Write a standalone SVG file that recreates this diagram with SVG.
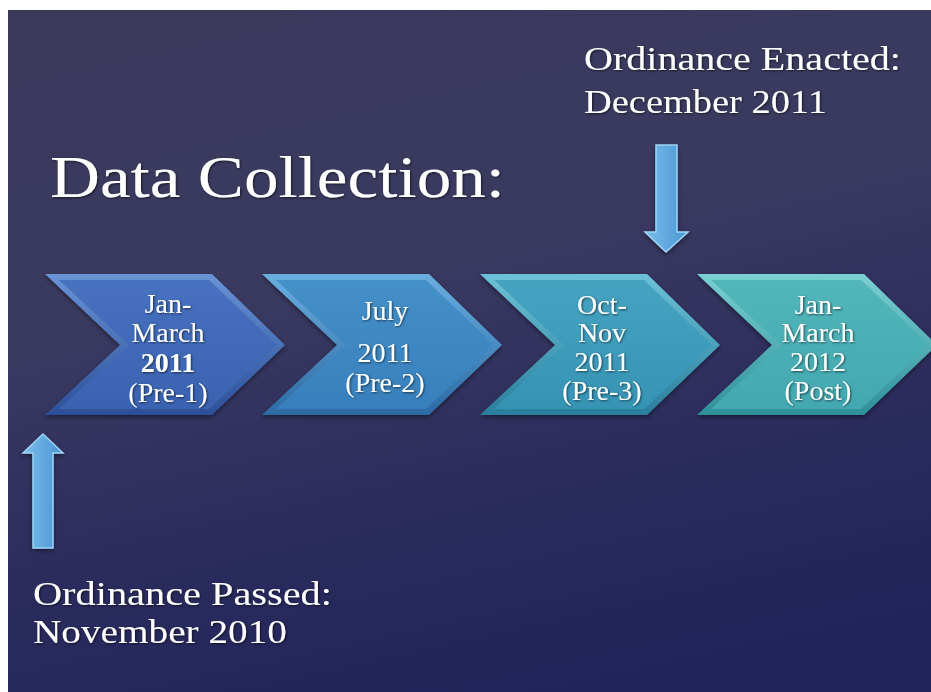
<svg xmlns="http://www.w3.org/2000/svg" width="931" height="692" viewBox="0 0 931 692">
<defs>
<linearGradient id="bg" x1="0.3" y1="0" x2="0.6" y2="1">
<stop offset="0" stop-color="#3a395c"/>
<stop offset="0.35" stop-color="#3a3a60"/>
<stop offset="0.7" stop-color="#2b2c5d"/>
<stop offset="1" stop-color="#21235a"/>
</linearGradient>
<linearGradient id="c1o" x1="0" y1="0" x2="0" y2="1"><stop offset="0" stop-color="#6a93d6"/><stop offset="1" stop-color="#2c4f98"/></linearGradient>
<linearGradient id="c1i" x1="0" y1="0" x2="0" y2="1"><stop offset="0" stop-color="#4772bf"/><stop offset="1" stop-color="#3a62b0"/></linearGradient>
<linearGradient id="c2o" x1="0" y1="0" x2="0" y2="1"><stop offset="0" stop-color="#6aaee0"/><stop offset="1" stop-color="#2c6aa3"/></linearGradient>
<linearGradient id="c2i" x1="0" y1="0" x2="0" y2="1"><stop offset="0" stop-color="#4490c8"/><stop offset="1" stop-color="#3880bd"/></linearGradient>
<linearGradient id="c3o" x1="0" y1="0" x2="0" y2="1"><stop offset="0" stop-color="#6cc2d8"/><stop offset="1" stop-color="#2a7f9c"/></linearGradient>
<linearGradient id="c3i" x1="0" y1="0" x2="0" y2="1"><stop offset="0" stop-color="#46a3c0"/><stop offset="1" stop-color="#3793b4"/></linearGradient>
<linearGradient id="c4o" x1="0" y1="0" x2="0" y2="1"><stop offset="0" stop-color="#7ad0d2"/><stop offset="1" stop-color="#2f8f98"/></linearGradient>
<linearGradient id="c4i" x1="0" y1="0" x2="0" y2="1"><stop offset="0" stop-color="#52b6ba"/><stop offset="1" stop-color="#43a8b0"/></linearGradient>
<linearGradient id="arr" x1="0" y1="0" x2="1" y2="0"><stop offset="0" stop-color="#79bdec"/><stop offset="1" stop-color="#4a95d2"/></linearGradient>
<filter id="sh" x="-10%" y="-10%" width="120%" height="130%">
<feDropShadow dx="0" dy="2" stdDeviation="2" flood-color="#000" flood-opacity="0.45"/>
</filter>
<filter id="ts" x="-5%" y="-20%" width="110%" height="140%">
<feDropShadow dx="1" dy="1" stdDeviation="0.8" flood-color="#000" flood-opacity="0.6"/>
</filter>
</defs>
<style>
.t{font-family:"Liberation Serif","DejaVu Serif",serif;fill:#ffffff;filter:url(#ts)}
.lbl{font-size:28px;text-anchor:middle}
.ann{font-size:34px}
.arrow{fill:url(#arr);stroke:#9fd3f5;stroke-width:1.5;filter:url(#sh)}
</style>
<rect x="0" y="0" width="931" height="692" fill="#ffffff"/>
<rect x="8" y="10" width="923" height="682" fill="url(#bg)"/>

<text class="t" x="50" y="197" font-size="60" textLength="455" lengthAdjust="spacingAndGlyphs">Data Collection:</text>

<g id="chevron1" transform="translate(45,274)">
<polygon points="0,0 167,0 240,71 167,141 0,141 75,71" fill="url(#c1o)" filter="url(#sh)"/>
<polygon points="14,6 164,6 232,71 164,135 14,135 84,71" fill="url(#c1i)"/>
<text class="t lbl" x="123" y="39">Jan-</text>
<text class="t lbl" x="123" y="68">March</text>
<text class="t lbl" x="123" y="98" font-weight="bold">2011</text>
<text class="t lbl" x="123" y="128">(Pre-1)</text>
</g>

<g id="chevron2" transform="translate(262,274)">
<polygon points="0,0 167,0 240,71 167,141 0,141 75,71" fill="url(#c2o)" filter="url(#sh)"/>
<polygon points="14,6 164,6 232,71 164,135 14,135 84,71" fill="url(#c2i)"/>
<text class="t lbl" x="123" y="46">July</text>
<text class="t lbl" x="123" y="88">2011</text>
<text class="t lbl" x="123" y="118">(Pre-2)</text>
</g>

<g id="chevron3" transform="translate(480,274)">
<polygon points="0,0 167,0 240,71 167,141 0,141 75,71" fill="url(#c3o)" filter="url(#sh)"/>
<polygon points="14,6 164,6 232,71 164,135 14,135 84,71" fill="url(#c3i)"/>
<text class="t lbl" x="122" y="40">Oct-</text>
<text class="t lbl" x="122" y="68">Nov</text>
<text class="t lbl" x="122" y="97">2011</text>
<text class="t lbl" x="122" y="126">(Pre-3)</text>
</g>

<g id="chevron4" transform="translate(697,274)">
<polygon points="0,0 167,0 240,71 167,141 0,141 75,71" fill="url(#c4o)" filter="url(#sh)"/>
<polygon points="14,6 164,6 232,71 164,135 14,135 84,71" fill="url(#c4i)"/>
<text class="t lbl" x="121" y="40">Jan-</text>
<text class="t lbl" x="121" y="68">March</text>
<text class="t lbl" x="121" y="97">2012</text>
<text class="t lbl" x="121" y="126">(Post)</text>
</g>

<g id="connectors">
<polygon class="arrow" points="43,434 63,453 53,453 53,548 33,548 33,453 23,453"/>
<polygon class="arrow" points="656,145 677,145 677,232 688,232 666,252 645,232 656,232"/>
</g>

<g id="enacted">
<text class="t ann" x="584" y="70" textLength="317" lengthAdjust="spacingAndGlyphs">Ordinance Enacted:</text>
<text class="t ann" x="584" y="113" textLength="243" lengthAdjust="spacingAndGlyphs">December 2011</text>
</g>
<g id="passed">
<text class="t ann" x="33" y="605" textLength="299" lengthAdjust="spacingAndGlyphs">Ordinance Passed:</text>
<text class="t ann" x="33" y="643" textLength="254" lengthAdjust="spacingAndGlyphs">November 2010</text>
</g>
</svg>
